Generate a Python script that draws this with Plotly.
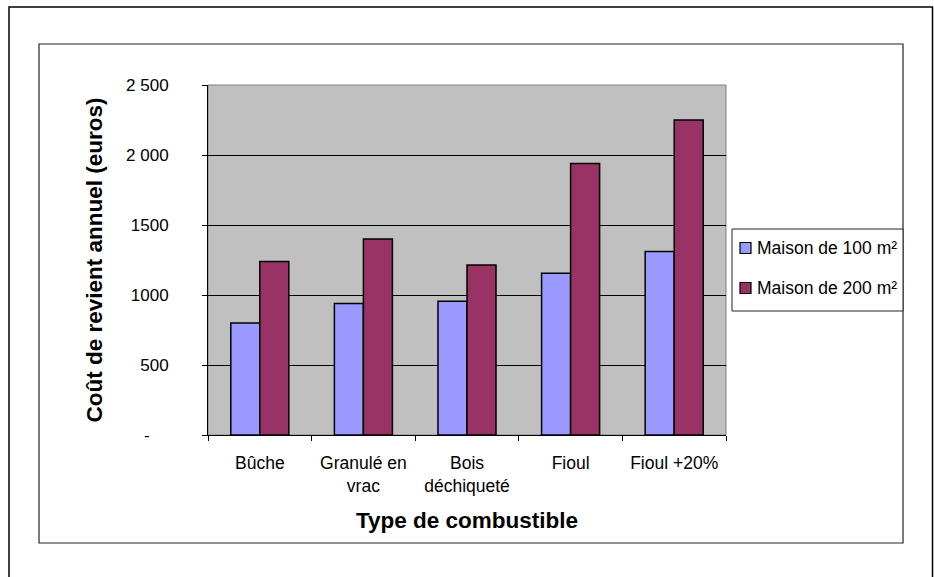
import plotly.graph_objects as go

categories = ["Bûche", "Granulé en<br>vrac", "Bois<br>déchiqueté", "Fioul", "Fioul +20%"]
series_names = ["Maison de 100 m²", "Maison de 200 m²"]
maison_100 = [800, 940, 955, 1155, 1310]
maison_200 = [1240, 1400, 1215, 1940, 2250]
y_tickvals = [0, 500, 1000, 1500, 2000, 2500]
y_ticktext = ["-\u00a0\u00a0\u00a0\u00a0", "500", "1000", "1500", "2 000", "2 500"]
colors = ["#9999FF", "#993366"]

W, H = 934, 577
L, R, T, B = 208, 726, 85, 435  # plot area in pixels

def px(x):
    return (x - L) / (R - L)

def py(y):
    return (B - y) / (B - T)

FONT = "Liberation Sans, Arial, sans-serif"

fig = go.Figure()
for name, vals, col in zip(series_names, [maison_100, maison_200], colors):
    fig.add_trace(go.Bar(
        x=categories, y=vals, name=name,
        marker=dict(color=col, line=dict(color="black", width=1.5)),
        showlegend=False,
    ))

fig.update_layout(
    width=W, height=H,
    margin=dict(l=L, r=W - R, t=T, b=H - B, pad=0),
    paper_bgcolor="white",
    plot_bgcolor="#C0C0C0",
    barmode="group", bargap=0.44, bargroupgap=0,
    font=dict(family=FONT, size=17, color="black"),
)

fig.update_yaxes(
    range=[0, 2500], tickvals=y_tickvals, ticktext=y_ticktext,
    showgrid=True, gridcolor="black", gridwidth=1,
    showline=True, linecolor="black", linewidth=1,
    ticks="outside", ticklen=5, tickcolor="black", tickwidth=1,
    ticklabelstandoff=30, tickfont=dict(size=17),
    zeroline=False,
    title=dict(text="<b>Coût de revient annuel (euros)</b>",
               font=dict(size=22.5, family=FONT), standoff=17),
)
fig.update_xaxes(
    showgrid=False,
    showline=True, linecolor="black", linewidth=1,
    ticks="outside", ticklen=5, tickcolor="black", tickwidth=1,
    tickson="boundaries", ticklabelstandoff=12, tickfont=dict(size=17.5),
    title=dict(text="<b>Type de combustible</b>",
               font=dict(size=22.5, family=FONT), standoff=17),
)

shapes = []
# plot area border (top/right gray)
shapes.append(dict(type="rect", xref="paper", yref="paper", x0=0, x1=1, y0=0, y1=1,
                   line=dict(color="#808080", width=1), layer="below"))
# outer frame
shapes.append(dict(type="rect", xref="paper", yref="paper",
                   x0=px(9), x1=px(932.5), y0=py(600), y1=py(7),
                   line=dict(color="black", width=1.5)))
# inner chart frame
shapes.append(dict(type="rect", xref="paper", yref="paper",
                   x0=px(39), x1=px(903), y0=py(543), y1=py(44),
                   line=dict(color="#222222", width=1.2)))
# legend box
shapes.append(dict(type="rect", xref="paper", yref="paper",
                   x0=px(732), x1=px(903), y0=py(311), y1=py(229),
                   line=dict(color="#222222", width=1), fillcolor="white", layer="above"))
annotations = []
for i, (name, col) in enumerate(zip(series_names, colors)):
    cy = 248 + 40 * i
    shapes.append(dict(type="rect", xref="paper", yref="paper",
                       x0=px(740), x1=px(751), y0=py(cy + 5.5), y1=py(cy - 5.5),
                       line=dict(color="black", width=1.2), fillcolor=col, layer="above"))
    annotations.append(dict(xref="paper", yref="paper", x=px(755), y=py(cy),
                            xanchor="left", yanchor="middle", showarrow=False,
                            text=name, font=dict(size=17.5, family=FONT, color="black")))

fig.update_layout(shapes=shapes, annotations=annotations)

fig.write_html("out.html", config={"displayModeBar": False},
               post_script="document.body.style.margin='0px';document.body.style.overflow='hidden';")
